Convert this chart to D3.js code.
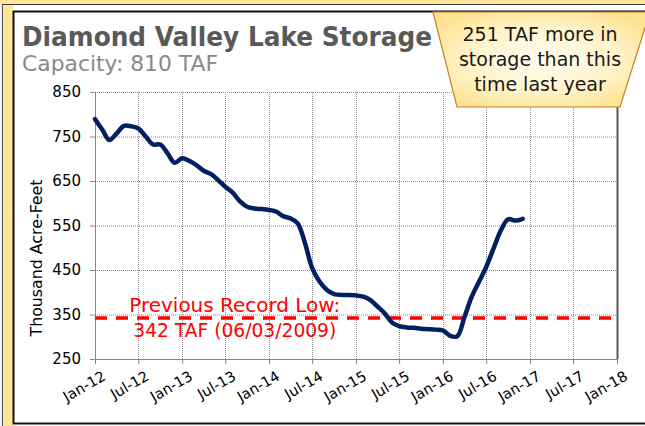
<!DOCTYPE html>
<html>
<head>
<meta charset="utf-8">
<script src="https://cdn.jsdelivr.net/npm/d3@7"></script>
<style>
  body { margin: 0; background: #fff; }
  svg { display: block; }
  .gothic { font-family: "DejaVu Sans", sans-serif; }
</style>
</head>
<body>
<script>
// Monthly storage readings, Jan 2012 - Dec 2016 (thousand acre-feet)
var storage = [
  789, 765, 742, 757, 774, 773, 768, 750, 732, 732, 712, 691,
  701, 695, 686, 673, 666, 652, 637, 624, 604, 592, 588, 587,
  585, 581, 571, 566, 555, 510, 454, 424, 405, 396, 394, 394,
  393, 390, 383, 368, 353, 332, 324, 321, 320, 318, 317, 316,
  314, 302, 301, 345, 390, 424, 457, 499, 540, 564, 561, 565
];
var months = d3.timeMonth.range(new Date(2012, 0, 1), new Date(2017, 0, 1));
var recordLow = 342;
var yTicks = [250, 350, 450, 550, 650, 750, 850];
var titleText = "Diamond Valley Lake Storage";
var subtitleText = "Capacity: 810 TAF";
var yLabel = "Thousand Acre-Feet";
var recordLines = ["Previous Record Low:", "342 TAF (06/03/2009)"];
var calloutLines = ["251 TAF more in", "storage than this", "time last year"];

var data = months.map(function(d, i) { return {date: d, value: storage[i]}; });

var W = 645, H = 426;
var margin = {top: 92, right: 28, bottom: 67, left: 95},
    width = W - margin.left - margin.right,
    height = H - margin.top - margin.bottom;

var svg = d3.select("body").append("svg")
    .attr("width", W)
    .attr("height", H);

// Frame around the slide
svg.append("rect").attr("width", W).attr("height", H).attr("fill", "#FFE599");
svg.append("rect").attr("x", 0).attr("y", 5).attr("width", 2).attr("height", H).attr("fill", "#f4f4f4");
svg.append("rect").attr("x", 13).attr("y", 5).attr("width", W).attr("height", H - 5).attr("fill", "#fff");
svg.append("line").attr("x1", 2).attr("x2", W).attr("y1", 4.5).attr("y2", 4.5).attr("stroke", "#3a3a3a");
svg.append("line").attr("x1", 2.5).attr("x2", 2.5).attr("y1", 4.5).attr("y2", H).attr("stroke", "#555");
svg.append("path")
    .attr("d", "M" + W + ",11.5H13.5V423.5H" + W)
    .attr("fill", "none").attr("stroke", "#111").attr("stroke-width", 2);

// Scales
var xScale = d3.scaleTime()
    .domain([new Date(2012, 0, 1), new Date(2018, 0, 1)])
    .range([0, width]);
var yScale = d3.scaleLinear().domain([250, 850]).range([height, 0]);

var g = svg.append("g")
    .attr("transform", "translate(" + margin.left + "," + margin.top + ")");

var xTicks = d3.timeMonth.every(6).range(new Date(2012, 0, 1), new Date(2018, 0, 2));

// Gridlines
g.append("g").selectAll("line")
    .data(yTicks.slice(1))
  .enter().append("line")
    .attr("x1", 0).attr("x2", width)
    .attr("y1", function(d) { return yScale(d) + 0.5; })
    .attr("y2", function(d) { return yScale(d) + 0.5; })
    .attr("stroke", "#8c8c8c").attr("stroke-dasharray", "1,1");

g.append("g").selectAll("line")
    .data(xTicks.slice(1, -1))
  .enter().append("line")
    .attr("x1", function(d) { return Math.round(xScale(d)) + 0.5; })
    .attr("x2", function(d) { return Math.round(xScale(d)) + 0.5; })
    .attr("y1", 0).attr("y2", height)
    .attr("stroke", "#8c8c8c").attr("stroke-dasharray", "1,1");

// Axes
var yAxis = d3.axisLeft(yScale).tickValues(yTicks).tickSize(5).tickPadding(9);
var xAxis = d3.axisBottom(xScale).tickValues(xTicks).tickSize(5)
    .tickFormat(d3.timeFormat("%b-%y"));

var gy = g.append("g").call(yAxis);
gy.select(".domain").attr("stroke", "#868686").attr("d", "M-5,0.5H0.5V" + height);
gy.selectAll(".tick line").attr("stroke", "#868686");
gy.selectAll(".tick text")
    .style("font-family", "'DejaVu Sans', sans-serif")
    .style("font-size", "15px")
    .attr("fill", "#000");

var gx = g.append("g").attr("transform", "translate(0," + height + ")").call(xAxis);
gx.attr("font-size", 14.5);
gx.select(".domain").attr("stroke", "#868686").attr("d", "M0.5,5V0.5H" + width);
gx.selectAll(".tick line").attr("stroke", "#868686");
gx.selectAll(".tick text")
    .style("font-family", "'DejaVu Sans', sans-serif")
    .style("font-size", "14.5px")
    .attr("fill", "#000")
    .attr("y", 0).attr("dy", null)
    .attr("text-anchor", "end")
    .attr("dominant-baseline", "hanging")
    .attr("transform", "translate(6,11) rotate(-30)");

// Right border of plot
g.append("line")
    .attr("x1", width + 0.5).attr("x2", width + 0.5)
    .attr("y1", 0).attr("y2", height)
    .attr("stroke", "#595959").attr("stroke-width", 2);

// Y axis title
svg.append("text")
    .attr("class", "gothic")
    .attr("transform", "translate(42,258) rotate(-90)")
    .attr("text-anchor", "middle")
    .attr("textLength", 157).attr("lengthAdjust", "spacingAndGlyphs")
    .style("font-size", "16px")
    .attr("fill", "#000")
    .text(yLabel);

// Record low line
g.append("line")
    .attr("x1", 0).attr("x2", width)
    .attr("y1", yScale(recordLow)).attr("y2", yScale(recordLow))
    .attr("stroke", "#FF0000").attr("stroke-width", 3.5)
    .attr("stroke-dasharray", "12,9");

// Storage line
var line = d3.line()
    .x(function(d) { return xScale(d.date); })
    .y(function(d) { return yScale(d.value); })
    .curve(d3.curveCatmullRom.alpha(0.5));

g.append("path")
    .datum(data)
    .attr("fill", "none")
    .attr("stroke", "#002060")
    .attr("stroke-width", 4.5)
    .attr("stroke-linejoin", "round")
    .attr("stroke-linecap", "round")
    .attr("d", line);

// Record low label
g.append("g").selectAll("text")
    .data(recordLines)
  .enter().append("text")
    .attr("class", "gothic")
    .attr("x", xScale(new Date(2013, 7, 10)))
    .attr("y", function(d, i) { return yScale(recordLow) - 6 + i * 25; })
    .attr("text-anchor", "middle")
    .attr("textLength", function(d, i) { return i === 0 ? 211 : 203; })
    .attr("lengthAdjust", "spacingAndGlyphs")
    .style("font-size", "19px")
    .attr("fill", "#FF0000")
    .text(function(d) { return d; });

// Title and subtitle
svg.append("text")
    .attr("class", "gothic")
    .attr("x", 22).attr("y", 46)
    .attr("textLength", 410).attr("lengthAdjust", "spacingAndGlyphs")
    .style("font-size", "26px").style("font-weight", "bold")
    .attr("fill", "#595959")
    .text(titleText);

svg.append("text")
    .attr("class", "gothic")
    .attr("x", 22).attr("y", 71)
    .attr("textLength", 196).attr("lengthAdjust", "spacingAndGlyphs")
    .style("font-size", "22px")
    .attr("fill", "#8a8a8a")
    .text(subtitleText);

// Callout box
var defs = svg.append("defs");
var grad = defs.append("radialGradient").attr("id", "callGrad")
    .attr("cx", "50%").attr("cy", "50%").attr("r", "60%");
grad.append("stop").attr("offset", "0%").attr("stop-color", "#FFFDF3");
grad.append("stop").attr("offset", "55%").attr("stop-color", "#FFF4CC");
grad.append("stop").attr("offset", "100%").attr("stop-color", "#FFE28E");

svg.append("path")
    .attr("d", "M433,12L650,12L620,107L457,107Z")
    .attr("fill", "url(#callGrad)")
    .attr("stroke", "#C0802F").attr("stroke-width", 1.2);

svg.append("g").selectAll("text")
    .data(calloutLines)
  .enter().append("text")
    .attr("class", "gothic")
    .attr("x", 540)
    .attr("y", function(d, i) { return 41 + i * 25; })
    .attr("text-anchor", "middle")
    .style("font-size", "19px")
    .attr("fill", "#1a1a1a")
    .text(function(d) { return d; });
</script>
</body>
</html>
